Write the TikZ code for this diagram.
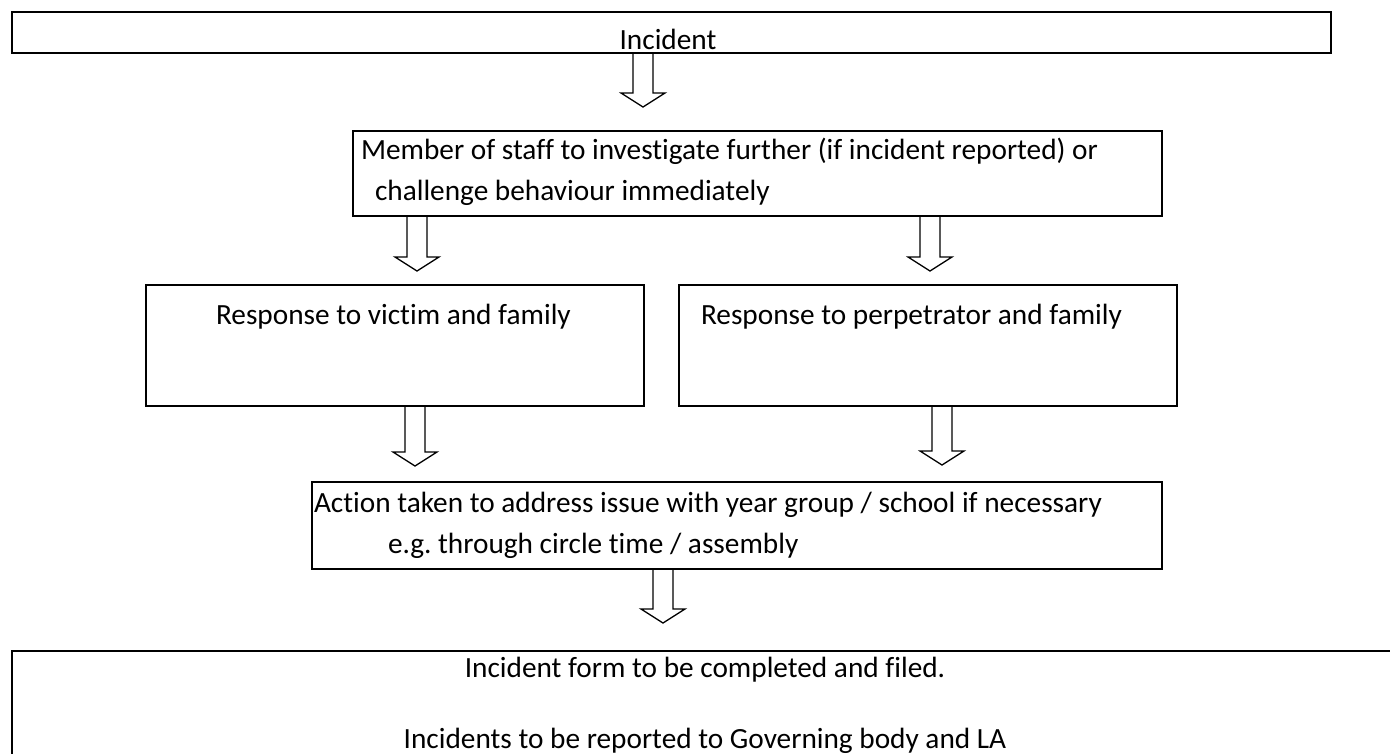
\documentclass[tikz,border=0pt]{standalone}
\usepackage{fontspec}
\setmainfont{Carlito}[Ligatures=NoCommon]
\usetikzlibrary{calc}
\tikzset{
  box/.style={draw=black, line width=2.3pt, rectangle, inner sep=0pt, outer sep=0pt},
  txt/.style={inner sep=0pt, outer sep=0pt, font=\fontsize{29.3}{36}\selectfont},
  arrline/.style={draw=black, line width=1.3pt, line join=miter},
}
\newcommand{\blockarr}[2]{\draw[arrline] let \p1=(#1), \p2=(#2) in (\x1-10pt,\y1) -- (\x1-10pt,\y2+14pt) -- (\x1-22pt,\y2+14pt) -- (\x1,\y2) -- (\x1+22pt,\y2+14pt) -- (\x1+10pt,\y2+14pt) -- (\x1+10pt,\y1);}
\begin{document}
\begin{tikzpicture}[x=1pt,y=-1pt]
\useasboundingbox (0,0) rectangle (1390,753);
\clip (0,0) rectangle (1390,753);
\fill[white] (0,0) rectangle (1390,753);
% boxes
\node[box, minimum width=1319pt, minimum height=41pt] (incident) at (671.5,32.5) {};
\node[box, minimum width=809pt, minimum height=85pt] (staff) at (757.5,173.5) {};
\node[box, minimum width=498pt, minimum height=121pt] (victim) at (395,345.5) {};
\node[box, minimum width=498pt, minimum height=121pt] (perp) at (928,345.5) {};
\node[box, minimum width=850pt, minimum height=87pt] (action) at (737,525.5) {};
\node[box, minimum width=1388pt, minimum height=119pt] (form) at (706,710.5) {};
% texts
\node[txt, anchor=base] (t0) at (668,49) {Incident};
\node[txt, anchor=base west] (t1) at (361,159) {Member of staff to investigate further (if incident reported) or};
\node[txt, anchor=base west] (t2) at (375,200) {challenge behaviour immediately};
\node[txt, anchor=base west] (t3) at (216,324) {Response to victim and family};
\node[txt, anchor=base west] (t4) at (701,324) {Response to perpetrator and family};
\node[txt, anchor=base west] (t5) at (314,512) {Action taken to address issue with year group / school if necessary};
\node[txt, anchor=base west] (t6) at (388,553) {e.g.\ through circle time / assembly};
\node[txt, anchor=base] (t7) at (705,677) {Incident form to be completed and filed.};
\node[txt, anchor=base] (t8) at (705,748) {Incidents to be reported to Governing body and LA};
% arrow tips
\coordinate (tipA) at (643,107);
\coordinate (tipB) at (417,271);
\coordinate (tipC) at (930,271);
\coordinate (tipD) at (415,466);
\coordinate (tipE) at (942,465);
\coordinate (tipF) at (663,623);
\blockarr{incident.south -| tipA}{tipA}
\blockarr{staff.south -| tipB}{tipB}
\blockarr{staff.south -| tipC}{tipC}
\blockarr{victim.south -| tipD}{tipD}
\blockarr{perp.south -| tipE}{tipE}
\blockarr{action.south -| tipF}{tipF}
\end{tikzpicture}
\end{document}
